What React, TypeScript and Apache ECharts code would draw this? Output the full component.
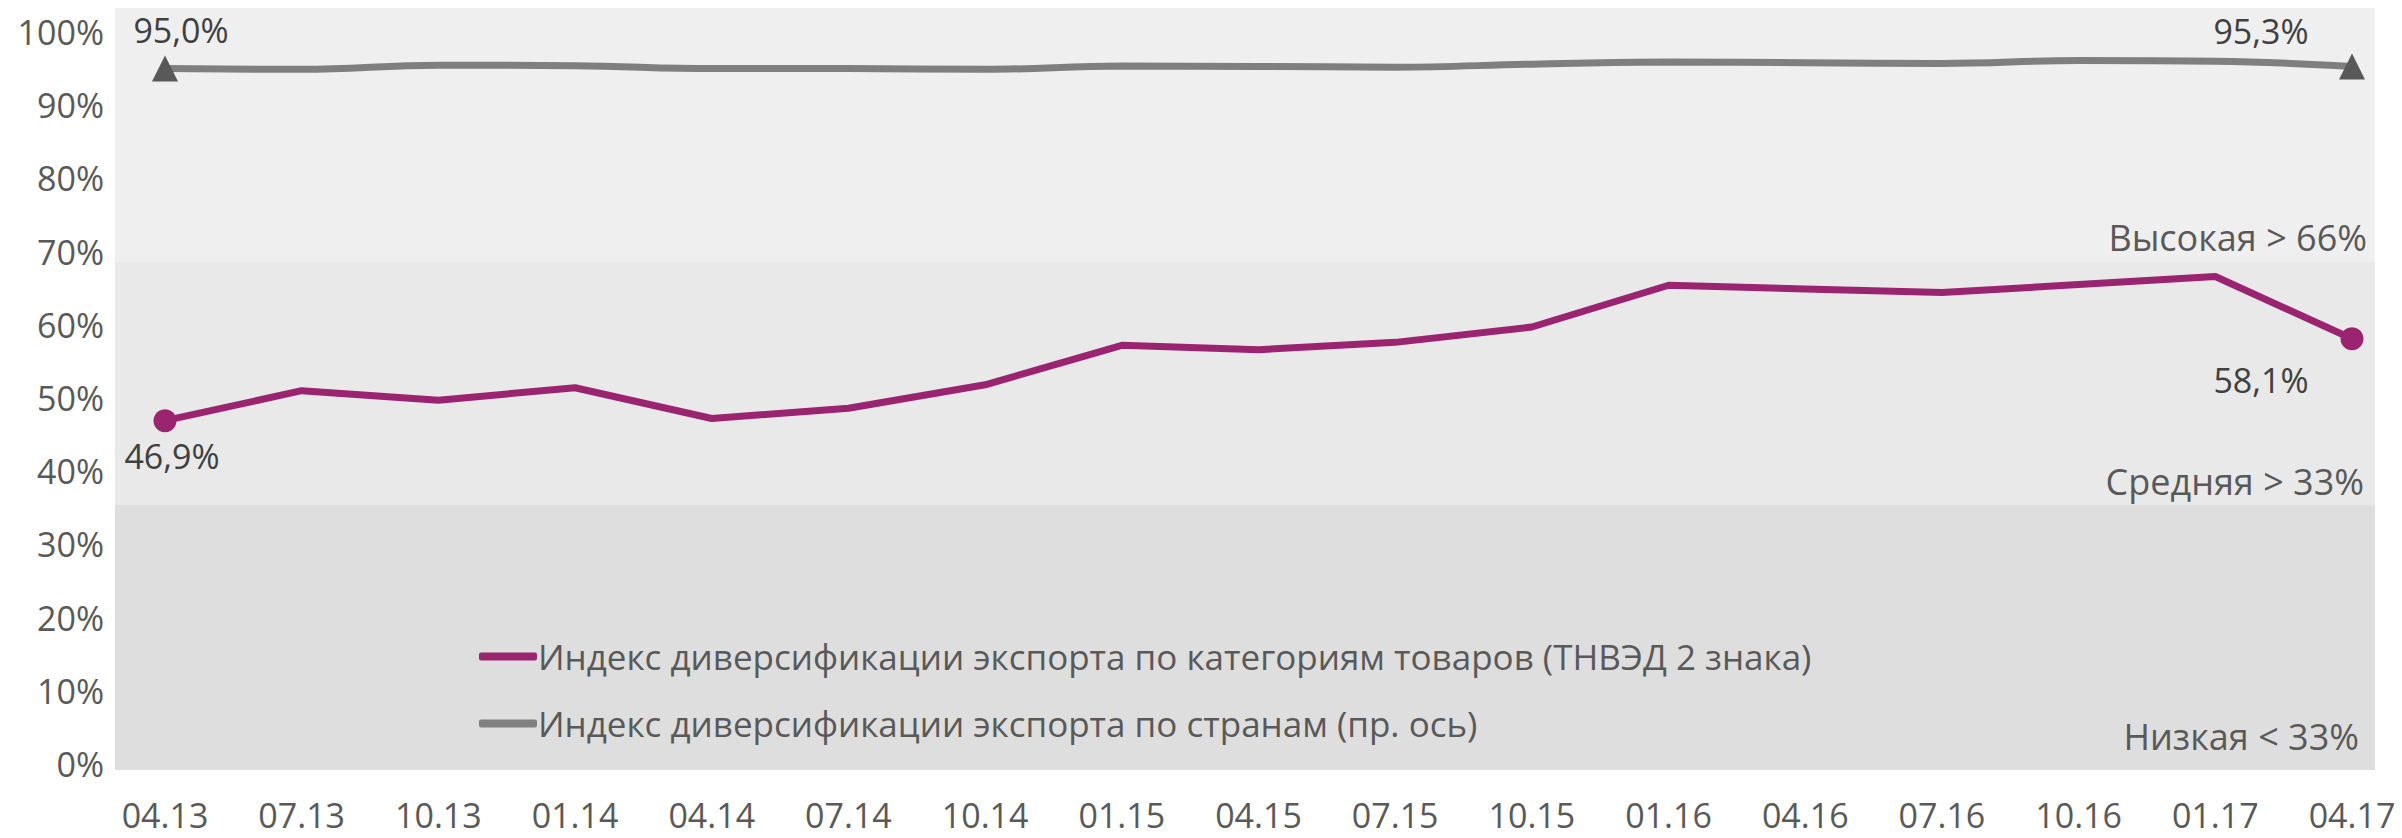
import React, { useEffect, useRef } from "react";
import * as echarts from "echarts";

const categories = ["04.13","07.13","10.13","01.14","04.14","07.14","10.14","01.15","04.15","07.15","10.15","01.16","04.16","07.16","10.16","01.17","04.17"];
const goodsIndex = [46.9,51.0,49.7,51.4,47.2,48.6,51.8,57.2,56.6,57.6,59.7,65.4,64.9,64.4,65.5,66.6,58.1];
const countriesIndex = [95.0,94.9,95.45,95.4,95.0,95.0,94.9,95.35,95.3,95.2,95.6,95.9,95.8,95.7,96.1,96.0,95.3];
const yTicks = [0,10,20,30,40,50,60,70,80,90,100];
const bandEdges = [-0.8, 35.4, 68.7, 103.3];
const bandNames = ["Низкая < 33%", "Средняя > 33%", "Высокая > 66%"];
const bandColors = ["#dedede", "#e9e9e9", "#efefef"];
const seriesNames = [
  "Индекс диверсификации экспорта по категориям товаров (ТНВЭД 2 знака)",
  "Индекс диверсификации экспорта по странам (пр. ось)",
];

const FONT = "Open Sans";
const fmt = (v: number) => v.toFixed(1).replace(".", ",") + "%";

export default function App() {
  const ref = useRef<HTMLDivElement>(null);
  useEffect(() => {
    if (!ref.current) return;
    const chart = echarts.init(ref.current, null, { renderer: "svg" });
    const last = categories.length - 1;

    const goodsData = goodsIndex.map((v, i) => {
      if (i === 0)
        return { value: v, symbol: "circle", label: { show: true, position: "inside", offset: [7, 35] } };
      if (i === last)
        return { value: v, symbol: "circle", label: { show: true, position: "inside", offset: [-91, 41] } };
      return { value: v, symbol: "none" };
    });
    const countriesData = countriesIndex.map((v, i) => {
      if (i === 0)
        return { value: v, symbol: "triangle", label: { show: true, position: "inside", offset: [16, -39] } };
      if (i === last)
        return { value: v, symbol: "triangle", label: { show: true, position: "inside", offset: [-91, -35] } };
      return { value: v, symbol: "none" };
    });

    const labelStyle = {
      show: false,
      color: "#404040",
      fontSize: 34,
      fontFamily: FONT,
      formatter: (p: any) => fmt(p.value),
    };

    const bandLabelOffsets = [[-10, -10], [-5, 0], [-2, 0]];
    const markAreaData = bandNames.map((name, i) => [
      {
        name,
        yAxis: bandEdges[i],
        itemStyle: { color: bandColors[i], opacity: 1 },
        label: { offset: bandLabelOffsets[i] },
      },
      { yAxis: bandEdges[i + 1] },
    ]);

    chart.setOption({
      animation: false,
      backgroundColor: "#ffffff",
      textStyle: { fontFamily: FONT },
      grid: [
        { left: 165, right: 50, top: 32, bottom: 74 },
        { left: 115, right: 27, top: 8, bottom: 68 },
      ],
      xAxis: [
        {
          type: "category",
          gridIndex: 0,
          data: categories,
          boundaryGap: false,
          axisLine: { show: false },
          axisTick: { show: false },
          splitLine: { show: false },
          axisLabel: { color: "#595959", fontSize: 34, lineHeight: 28, fontFamily: FONT, margin: 37, interval: 0 },
        },
        { type: "value", gridIndex: 1, min: 0, max: 1, show: false },
      ],
      yAxis: [
        {
          type: "value",
          gridIndex: 0,
          min: 0,
          max: 100,
          interval: 10,
          axisLine: { show: false },
          axisTick: { show: false },
          splitLine: { show: false },
          axisLabel: {
            color: "#595959",
            fontSize: 34,
            fontFamily: FONT,
            margin: 61,
            formatter: (v: number) => (yTicks.includes(v) ? v + "%" : ""),
          },
        },
        { type: "value", gridIndex: 0, min: 0, max: 100, show: false },
        { type: "value", gridIndex: 1, min: bandEdges[0], max: bandEdges[3], show: false },
      ],
      legend: {
        orient: "vertical",
        left: 474,
        top: 628,
        itemWidth: 58,
        itemHeight: 8,
        itemGap: 20,
        icon: "roundRect",
        textStyle: { color: "#595959", fontSize: 35, lineHeight: 47, fontFamily: FONT, padding: [0, 0, 0, -4] },
        data: [
          { name: seriesNames[0], itemStyle: { color: "#9b2470" } },
          { name: seriesNames[1], itemStyle: { color: "#808080" } },
        ],
      },
      series: [
        {
          type: "line",
          xAxisIndex: 1,
          yAxisIndex: 2,
          z: 0,
          silent: true,
          data: [],
          symbol: "none",
          markArea: {
            silent: true,
            label: {
              show: true,
              position: "insideBottomRight",
              distance: 6,
              color: "#595959",
              fontSize: 36,
              fontFamily: FONT,
            },
            data: markAreaData,
          },
        },
        {
          name: seriesNames[1],
          type: "line",
          xAxisIndex: 0,
          yAxisIndex: 1,
          z: 3,
          smooth: 0.4,
          symbolSize: 26,
          data: countriesData,
          lineStyle: { color: "#7f7f7f", width: 7 },
          itemStyle: { color: "#595959" },
          label: labelStyle,
        },
        {
          name: seriesNames[0],
          type: "line",
          xAxisIndex: 0,
          yAxisIndex: 0,
          z: 4,
          symbolSize: 23,
          data: goodsData,
          lineStyle: { color: "#9b2470", width: 7 },
          itemStyle: { color: "#9b2470" },
          label: labelStyle,
        },
      ],
    });
    return () => chart.dispose();
  }, []);

  return (
    <div
      ref={ref}
      style={{ position: "fixed", left: 0, top: 0, width: 2402, height: 838 }}
    />
  );
}
